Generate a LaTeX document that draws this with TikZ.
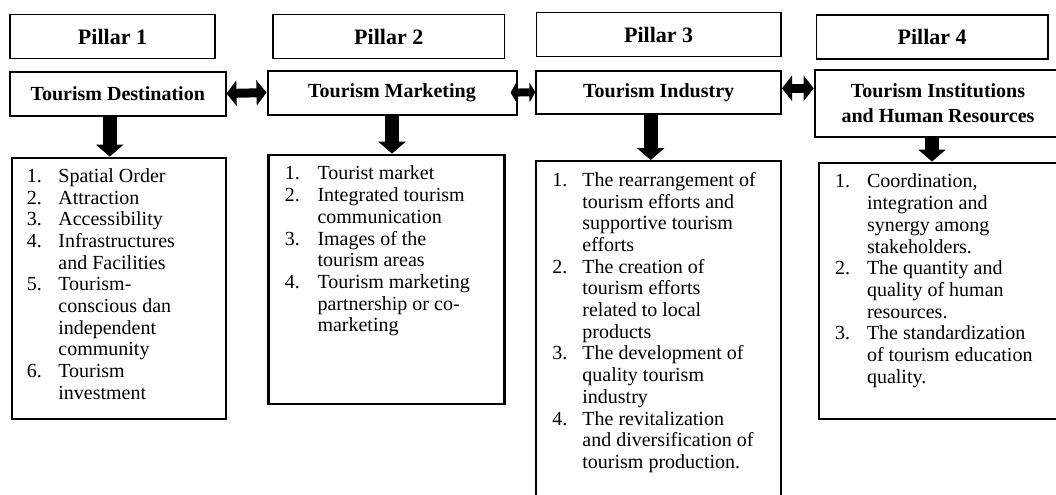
\documentclass[tikz,border=0pt]{standalone}
\usepackage{fontspec}
\setmainfont{Liberation Serif}
\usetikzlibrary{arrows.meta}

\begin{document}
\begin{tikzpicture}[x=0.5pt,y=-0.5pt,
    pillar/.style={draw, line width=0.8pt, minimum height=22pt, font=\fontsize{11}{12}\selectfont\bfseries},
    head/.style={draw, line width=1pt, minimum height=22pt, font=\fontsize{10}{12}\selectfont\bfseries},
    listbox/.style={draw, line width=1pt},
    items/.style={anchor=north west, inner sep=0pt, font=\fontsize{10}{10.85}\selectfont},
    twoway/.style={line width=4.5pt, {Triangle[width=12.5pt,length=5pt]}-{Triangle[width=12.5pt,length=5pt]}},
    downarrow/.style={line width=7pt, -{Triangle[width=13.5pt,length=6pt]}}]
    \useasboundingbox (0,0) rectangle (1056,494);
    \clip (0,0) rectangle (1056,494);

    % 第一行: 四个支柱
    \node[pillar, minimum width=102.5pt] (p1) at (112.5,36.5) {Pillar 1};
    \node[pillar, minimum width=115.75pt] (p2) at (388.75,36.5) {Pillar 2};
    \node[pillar, minimum width=122.3pt] (p3) at (658.7,34.5) {Pillar 3};
    \node[pillar, minimum width=115.8pt] (p4) at (932.2,36.8) {Pillar 4};

    % 第二行: 各支柱的名称
    \node[head, minimum width=107.75pt] (dest) at (117.75,93.5) {Tourism Destination};
    \node[head, minimum width=124.5pt] (mkt) at (392,92.6) {Tourism Marketing};
    \node[head, minimum width=122.3pt, minimum height=21.5pt] (ind) at (658.7,92.3) {Tourism Industry};
    \node[head, minimum width=123.3pt, minimum height=33.75pt, align=center,
          font=\fontsize{10}{12.5}\selectfont\bfseries] (inst) at (938,103.3)
          {Tourism Institutions\\and Human Resources};

    % 双向箭头
    \draw[twoway] (dest.east) -- (mkt.west);
    \draw[line width=4pt, {Triangle[width=10pt,length=3pt]}-{Triangle[width=10pt,length=3pt]}]
        ([xshift=-3.5pt]mkt.east) -- (ind.west);
    \draw[twoway] ([yshift=2pt]ind.east) -- ([yshift=2pt]ind.east -| inst.west);

    % 下面的列表框
    \node[listbox, minimum width=106.75pt, minimum height=130.7pt] (dlist) at (118.75,288.3) {};
    \node[listbox, line width=1.4pt, minimum width=117.95pt, minimum height=124.5pt] (mlist) at (386.55,279.5) {};
    \node[listbox, minimum width=122.3pt, minimum height=172pt] (ilist) at (658.7,333) {};
    \node[listbox, line width=1.4pt, minimum width=123pt, minimum height=128pt] (hlist) at (942,291) {};

    % 向下箭头
    \draw[downarrow] ([xshift=-4pt]dest.south) -- ([xshift=-4pt]dest.south |- dlist.north);
    \draw[downarrow] (mkt.south) -- (mkt.south |- mlist.north);
    \draw[downarrow] ([xshift=-4pt]ind.south) -- ([xshift=-4pt]ind.south |- ilist.north);
    \draw[downarrow] ([xshift=-3pt]inst.south) -- ([xshift=-3pt]inst.south |- hlist.north);

    % 列表内容
    \node[items] (dtext) at ([shift={(15.5,10.2)}]dlist.north west) {%
      \begin{tabular}{@{}p{15.75pt}@{}l@{}}
        1. & Spatial Order\\
        2. & Attraction\\
        3. & Accessibility\\
        4. & Infrastructures\\
           & and Facilities\\
        5. & Tourism-\\
           & conscious dan\\
           & independent\\
           & community\\
        6. & Tourism\\
           & investment
      \end{tabular}};
    \node[items] (mtext) at ([shift={(17.2,10.8)}]mlist.north west) {%
      \begin{tabular}{@{}p{16.35pt}@{}l@{}}
        1. & Tourist market\\
        2. & Integrated tourism\\
           & communication\\
        3. & Images of the\\
           & tourism areas\\
        4. & Tourism marketing\\
           & partnership or co-\\
           & marketing
      \end{tabular}};
    \node[items] (itext) at ([shift={(16.6,10.8)}]ilist.north west) {%
      \begin{tabular}{@{}p{15pt}@{}l@{}}
        1. & The rearrangement of\\
           & tourism efforts and\\
           & supportive tourism\\
           & efforts\\
        2. & The creation of\\
           & tourism efforts\\
           & related to local\\
           & products\\
        3. & The development of\\
           & quality tourism\\
           & industry\\
        4. & The revitalization\\
           & and diversification of\\
           & tourism production.
      \end{tabular}};
    \node[items] (htext) at ([shift={(17,10.8)}]hlist.north west) {%
      \begin{tabular}{@{}p{16pt}@{}l@{}}
        1. & Coordination,\\
           & integration and\\
           & synergy among\\
           & stakeholders.\\
        2. & The quantity and\\
           & quality of human\\
           & resources.\\
        3. & The standardization\\
           & of tourism education\\
           & quality.
      \end{tabular}};
\end{tikzpicture}
\end{document}
